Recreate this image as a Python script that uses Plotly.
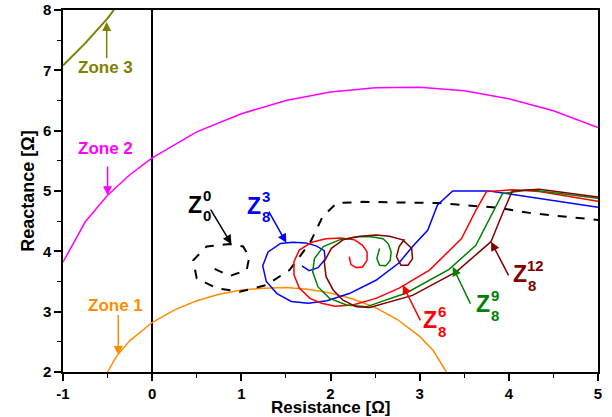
import plotly.graph_objects as go

# ---- data ----
zone1_x = [-0.5, -0.4, -0.25, 0.0, 0.25, 0.5, 0.75, 1.0, 1.25, 1.5, 1.75, 2.0, 2.25, 2.5, 2.75, 3.0, 3.15, 3.3]
zone1_y = [2.0, 2.26, 2.52, 2.82, 3.03, 3.18, 3.29, 3.36, 3.39, 3.40, 3.37, 3.31, 3.21, 3.07, 2.87, 2.59, 2.36, 2.0]

zone2_x = [-1.0, -0.75, -0.5, -0.25, 0.0, 0.5, 1.0, 1.5, 2.0, 2.5, 3.0, 3.5, 4.0, 4.5, 5.0]
zone2_y = [3.82, 4.49, 4.93, 5.27, 5.55, 5.98, 6.28, 6.50, 6.64, 6.71, 6.72, 6.66, 6.53, 6.33, 6.05]

zone3_x = [-1.0, -0.75, -0.5, -0.43]
zone3_y = [7.08, 7.45, 7.86, 8.0]

z00_x = [0.70, 0.87, 1.06, 1.09, 1.02, 0.87, 0.61, 0.46, 0.50, 0.72, 0.98, 1.28, 1.54, 1.77, 1.91, 2.07, 2.36, 2.77, 3.22, 3.89, 4.26, 5.0]
z00_y = [3.71, 3.59, 3.69, 3.91, 4.08, 4.12, 4.08, 3.85, 3.55, 3.39, 3.33, 3.44, 3.69, 4.14, 4.57, 4.80, 4.82, 4.81, 4.80, 4.72, 4.63, 4.52]

z83_x = [1.68, 1.76, 1.86, 1.94, 1.93, 1.84, 1.72, 1.58, 1.44, 1.30, 1.24, 1.28, 1.40, 1.56, 1.75, 1.96, 2.21, 2.51, 2.77, 2.92, 3.09, 3.20, 3.37, 3.78, 5.0]
z83_y = [3.76, 3.68, 3.73, 3.87, 4.01, 4.09, 4.14, 4.15, 4.13, 3.99, 3.76, 3.50, 3.30, 3.17, 3.14, 3.18, 3.30, 3.52, 3.81, 4.08, 4.35, 4.77, 5.00, 5.00, 4.73]

z86_x = [2.21, 2.23, 2.29, 2.36, 2.41, 2.41, 2.36, 2.27, 2.12, 1.95, 1.79, 1.65, 1.59, 1.59, 1.65, 1.77, 1.90, 2.05, 2.25, 2.51, 2.77, 3.11, 3.47, 3.63, 3.75, 4.04, 4.34, 5.0]
z86_y = [3.91, 3.78, 3.73, 3.74, 3.85, 3.99, 4.10, 4.19, 4.22, 4.21, 4.15, 4.02, 3.83, 3.61, 3.39, 3.22, 3.14, 3.09, 3.11, 3.22, 3.39, 3.69, 4.21, 4.68, 4.99, 5.02, 4.99, 4.83]

z89_x = [2.55, 2.52, 2.55, 2.62, 2.67, 2.68, 2.65, 2.59, 2.46, 2.29, 2.10, 1.92, 1.82, 1.80, 1.86, 1.99, 2.18, 2.40, 2.85, 3.33, 3.63, 3.82, 3.93, 4.23, 5.0]
z89_y = [4.05, 3.88, 3.77, 3.76, 3.85, 3.99, 4.12, 4.21, 4.24, 4.24, 4.19, 4.08, 3.88, 3.66, 3.41, 3.22, 3.11, 3.08, 3.31, 3.70, 4.10, 4.63, 4.96, 5.02, 4.88]

z812_x = [2.83, 2.77, 2.74, 2.79, 2.87, 2.92, 2.91, 2.81, 2.66, 2.51, 2.33, 2.14, 2.01, 1.93, 1.95, 2.03, 2.14, 2.29, 2.44, 2.92, 3.41, 3.80, 3.93, 4.04, 4.34, 5.0]
z812_y = [4.20, 4.08, 3.91, 3.77, 3.77, 3.88, 4.05, 4.19, 4.25, 4.27, 4.25, 4.19, 4.05, 3.83, 3.58, 3.36, 3.19, 3.08, 3.07, 3.27, 3.66, 4.16, 4.63, 5.00, 5.03, 4.90]

x_ticks = [-1, 0, 1, 2, 3, 4, 5]
y_ticks = [2, 3, 4, 5, 6, 7, 8]

ORANGE = "#FF8C00"
MAGENTA = "#FF00FF"
OLIVE = "#808000"
BLUE = "#0000FF"
RED = "#FF0000"
GREEN = "#008000"
BROWN = "#800000"

FONT = "Liberation Sans, Arial, sans-serif"

fig = go.Figure()

def line(x, y, color, width=1.5, dash="solid"):
    fig.add_trace(go.Scatter(x=x, y=y, mode="lines",
                             line=dict(color=color, width=width, dash=dash),
                             showlegend=False, hoverinfo="skip"))

line(zone1_x, zone1_y, ORANGE)
line(zone2_x, zone2_y, MAGENTA)
line(zone3_x, zone3_y, OLIVE, width=2)
line(z00_x, z00_y, "black", width=2, dash="dash")
line(z83_x, z83_y, BLUE)
line(z86_x, z86_y, RED)
line(z89_x, z89_y, GREEN)
line(z812_x, z812_y, BROWN)

ann = []

def arrow(tip, tail, color):
    ann.append(dict(x=tip[0], y=tip[1], ax=tail[0], ay=tail[1], xref="x", yref="y",
                    axref="x", ayref="y", text="", showarrow=True, arrowhead=2,
                    arrowsize=1.2, arrowwidth=1.5, arrowcolor=color))

def text(x, y, s, color, size, xshift=0, yshift=0):
    ann.append(dict(x=x, y=y, xref="x", yref="y", text=s, showarrow=False,
                    font=dict(family=FONT, size=size, color=color, weight="bold"),
                    xshift=xshift, yshift=yshift))

# zone labels
text(-0.52, 7.05, "Zone 3", OLIVE, 17)
arrow((-0.51, 7.80), (-0.51, 7.18), OLIVE)
text(-0.52, 5.71, "Zone 2", MAGENTA, 17)
arrow((-0.50, 4.93), (-0.50, 5.43), MAGENTA)
text(-0.41, 3.11, "Zone 1", ORANGE, 17)
arrow((-0.38, 2.28), (-0.38, 2.97), ORANGE)

# Z labels
def zlabel(x, y, sup, sub, color):
    text(x, y, "Z", color, 23)
    text(x, y, sup, color, 15, xshift=12 + 4 * (len(sup) - 1), yshift=9)
    text(x, y, sub, color, 15, xshift=12, yshift=-11)

zlabel(0.478, 4.774, "0", "0", "black")
arrow((0.889, 4.119), (0.646, 4.716), "black")
zlabel(1.139, 4.758, "3", "8", BLUE)
arrow((1.505, 4.141), (1.299, 4.683), BLUE)
zlabel(3.119, 2.859, "6", "8", RED)
arrow((2.811, 3.440), (3.016, 2.831), RED)
zlabel(3.715, 3.124, "9", "8", GREEN)
arrow((3.371, 3.743), (3.577, 3.108), GREEN)
zlabel(4.123, 3.622, "12", "8", BROWN)
arrow((3.801, 4.158), (4.006, 3.577), BROWN)

# x-axis title placed as a paper annotation just below the tick labels
ann.append(dict(x=0.5, y=0, xref="paper", yref="paper", xanchor="center", yanchor="middle",
                yshift=-35, text="Resistance [Ω]", showarrow=False, borderpad=0,
                font=dict(family=FONT, size=17, color="black", weight="bold")))

axis_common = dict(showline=True, linecolor="black", linewidth=1.5, mirror=True,
                   ticks="outside", ticklen=7, tickwidth=1.5, tickcolor="black",
                   showgrid=False, automargin=False,
                   tickfont=dict(family=FONT, size=15, color="black", weight="bold"),
                   minor=dict(ticks="outside", ticklen=4, tickwidth=1, tickcolor="black", dtick=0.5))

fig.update_xaxes(range=[-1, 5], tickvals=x_ticks, ticktext=[str(v) for v in x_ticks],
                 zeroline=True, zerolinecolor="black", zerolinewidth=1.5,
                 **axis_common)
fig.update_yaxes(range=[2, 8], tickvals=y_ticks, ticktext=[str(v) for v in y_ticks],
                 zeroline=False,
                 title=dict(text="Reactance [Ω]", standoff=4,
                            font=dict(family=FONT, size=18, color="black", weight="bold")),
                 **axis_common)

fig.update_layout(width=612, height=417, margin=dict(l=63, r=14, t=10, b=45),
                  plot_bgcolor="white", paper_bgcolor="white", annotations=ann)

fig.write_html("out.html", config={"displayModeBar": False},
               post_script="document.body.style.margin='0';document.body.style.overflow='hidden';")
